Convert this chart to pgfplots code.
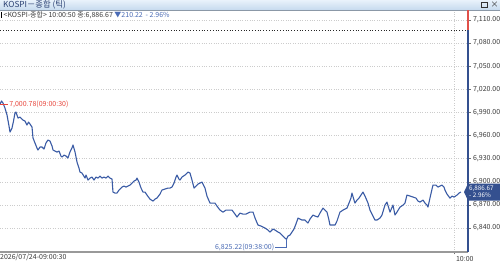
\documentclass[border=0pt]{standalone}
\usepackage{pgfplots}
\pgfplotsset{compat=1.18}
\usepackage{pgfplotstable}
\usepackage{fontspec}
\setmainfont{Noto Sans CJK KR}
\definecolor{linecol}{HTML}{3A5BA5}
\definecolor{axblue}{HTML}{34508F}
\definecolor{axred}{HTML}{E0504A}
\definecolor{annred}{HTML}{E8463C}
\definecolor{annblue}{HTML}{4A6BB5}
\definecolor{bartop}{HTML}{E9F2FB}
\definecolor{barbot}{HTML}{C6DAEE}
\definecolor{txtgray}{HTML}{3A3A3A}
\pgfplotstableread{
t v
0.50 7000.78
0.70 7004.8
0.89 7002.2
1.15 6995.7
1.42 6986.6
1.68 6972.3
1.81 6964.5
2.07 6969.7
2.27 6978.8
2.46 6989.2
2.59 6990.5
2.86 6982.7
3.12 6984.0
3.51 6980.1
3.77 6978.8
4.03 6973.6
4.23 6977.5
4.43 6974.9
4.69 6971.0
4.82 6956.8
5.08 6950.3
5.34 6943.8
5.47 6941.2
5.74 6945.1
6.00 6945.1
6.26 6942.5
6.52 6950.3
6.78 6954.2
7.04 6952.9
7.31 6946.4
7.44 6941.2
7.70 6939.9
7.96 6938.6
8.22 6939.9
8.48 6933.4
8.62 6932.1
8.88 6934.7
9.14 6933.4
9.40 6930.8
9.66 6938.6
9.92 6943.8
10.06 6947.7
10.32 6938.6
10.58 6925.6
10.84 6917.8
10.97 6912.6
11.23 6911.3
11.63 6904.8
11.76 6908.7
12.02 6902.2
12.28 6904.8
12.54 6906.1
12.80 6902.2
13.07 6906.1
13.33 6904.8
13.59 6907.4
13.85 6904.8
14.11 6906.1
14.37 6904.8
14.64 6907.4
14.90 6904.8
15.16 6903.5
15.29 6886.6
15.55 6885.3
15.81 6885.3
16.08 6889.2
16.34 6891.8
16.47 6893.1
16.73 6894.4
16.99 6893.1
17.25 6894.4
17.52 6895.7
17.78 6898.3
18.04 6900.9
18.30 6902.2
18.43 6904.8
18.69 6899.6
18.96 6891.8
19.22 6886.6
19.48 6886.6
19.74 6882.7
20.13 6877.5
20.53 6874.9
20.79 6877.5
21.05 6878.8
21.44 6884.0
21.70 6889.2
22.10 6890.5
22.49 6891.8
22.75 6891.8
23.01 6893.1
23.28 6898.3
23.54 6906.1
23.67 6908.7
23.93 6903.5
24.06 6902.2
24.32 6906.1
24.72 6908.7
25.11 6912.6
25.37 6911.3
25.63 6902.2
25.90 6891.8
26.16 6894.4
26.42 6897.0
26.68 6898.3
26.94 6899.6
27.20 6894.4
27.33 6891.8
27.59 6881.4
27.99 6872.3
28.25 6872.3
28.64 6872.3
28.90 6868.4
29.30 6863.2
29.69 6860.6
30.08 6863.2
30.47 6863.2
30.87 6863.2
31.26 6858.0
31.52 6854.2
31.91 6859.3
32.31 6858.0
32.70 6858.0
33.22 6860.6
33.62 6860.6
33.88 6852.9
34.27 6843.8
34.66 6842.5
35.19 6839.9
35.58 6837.3
35.84 6834.7
36.23 6838.6
36.49 6837.3
36.89 6834.7
37.15 6833.4
37.54 6829.5
37.80 6826.9
38.00 6825.22
38.20 6829.5
38.46 6830.8
38.72 6834.7
38.98 6838.6
39.24 6845.1
39.51 6852.9
39.77 6851.6
40.03 6850.3
40.42 6850.3
40.68 6847.7
40.81 6846.4
41.08 6851.6
41.47 6856.8
41.73 6855.5
42.12 6854.2
42.38 6859.3
42.78 6865.8
43.04 6863.2
43.30 6860.6
43.56 6850.3
43.69 6843.8
44.09 6843.8
44.35 6843.8
44.61 6849.0
45.00 6860.6
45.40 6863.2
45.66 6864.5
45.92 6865.8
46.18 6872.3
46.44 6878.8
46.57 6885.3
46.84 6876.2
46.97 6872.3
47.23 6876.2
47.49 6878.8
47.75 6882.7
48.01 6886.6
48.28 6881.4
48.67 6872.3
48.93 6863.2
49.32 6855.5
49.58 6850.3
49.85 6850.3
50.24 6852.9
50.50 6856.8
50.89 6869.7
51.15 6873.6
51.55 6860.6
51.94 6869.7
52.20 6856.8
52.46 6860.6
52.86 6867.1
53.25 6869.7
53.51 6872.3
53.77 6882.7
54.17 6881.4
54.56 6880.1
54.95 6878.8
55.21 6874.9
55.47 6873.6
55.87 6876.2
56.13 6872.3
56.39 6869.7
56.52 6867.1
56.78 6878.8
57.05 6890.5
57.18 6895.7
57.57 6895.7
57.83 6893.1
58.09 6894.4
58.36 6895.7
58.62 6893.1
58.75 6889.2
59.01 6884.0
59.40 6878.8
59.66 6881.4
59.93 6880.1
60.32 6882.7
60.58 6885.3
60.83 6886.67
}\kospi
\begin{document}
\begin{tikzpicture}[font=\fontsize{7}{8}\selectfont]
\fill[white] (0pt,0pt) rectangle (500pt,261pt);
% title bar
\shade[top color=bartop, bottom color=barbot] (0pt,251pt) rectangle (500pt,261pt);
\draw[barbot!70!black, line width=0.5pt] (0pt,251pt) -- (500pt,251pt);
\node[anchor=west, inner sep=0pt, text=axblue!80!black] at (3pt,256pt) {\fontsize{8.3}{9}\selectfont KOSPI－종합 (틱)};
\draw[black!80, line width=0.6pt] (481pt,253.5pt) rectangle (487pt,258.5pt);
\node[inner sep=0pt, text=black!80] at (494.5pt,256pt) {\fontsize{8}{8}\selectfont ×};
\begin{axis}[
  at={(0pt,9pt)}, anchor=south west,
  scale only axis, width=468pt, height=242pt,
  xmin=0.5, xmax=61.76, ymin=6808.8, ymax=7123,
  axis line style={draw=none},
  ytick={6840,6870,6900,6930,6960,6990,7020,7050,7080,7110},
  ytick pos=right, yticklabel pos=right,
  xtick={60}, xticklabels={10:00}, xtick pos=lower,
  tick align=outside, major tick length=2.5pt,
  tick style={black!55, line width=0.4pt},
  ymajorgrids, xmajorgrids,
  grid style={dotted, black!20, line width=0.5pt},
  /pgf/number format/assume math mode=true,
  y tick label style={/pgf/number format/fixed, /pgf/number format/fixed zerofill, /pgf/number format/precision=2, /pgf/number format/1000 sep={,}, text=txtgray, font=\fontsize{7}{8}\selectfont, xshift=-1pt},
  x tick label style={text=txtgray, anchor=north west, xshift=-2pt, yshift=2pt, font=\fontsize{7}{8}\selectfont},
  clip=false,
]
% previous close dotted line
\draw[black!85, dotted, line width=0.8pt] (axis cs:0.5,7096.89) -- (axis cs:61.76,7096.89);
% bottom axis
\draw[black!40, line width=1.6pt] (rel axis cs:0,0) -- (rel axis cs:1,0);
% right axis two-coloured
\draw[axblue, line width=1.8pt] (rel axis cs:1,0) -- (axis cs:61.76,7096.89);
\draw[axred, line width=1.8pt] (axis cs:61.76,7096.89) -- (rel axis cs:1,1);
\addplot[linecol, line width=1.1pt, line join=round] table[x=t, y=v] {\kospi};
% max annotation
\draw[annred, line width=0.5pt] (axis cs:0.5,7000.78) -- ++(8pt,0pt) node[right, inner sep=1pt, text=annred] {7,000.78(09:00:30)};
% min annotation
\draw[annblue, line width=0.5pt] (axis cs:38,6825.22) -- ++(0pt,-7.5pt) -- ++(-11pt,0pt) node[left, inner sep=1pt, text=annblue] {6,825.22(09:38:00)};
% last value badge
\fill[axblue] (axis cs:61.76,6886.67) ++(-4pt,0pt) -- ++(4pt,8.5pt) -- ++(33pt,0pt) -- ++(0pt,-17pt) -- ++(-33pt,0pt) -- cycle;
\node[text=white, align=left, inner sep=0pt, anchor=west, xshift=1pt, font=\fontsize{6.3}{6.8}\selectfont] at (axis cs:61.76,6886.67) {6,886.67\\ -~2.96\%};
% bottom-left date label
\node[anchor=north west, inner sep=0pt, yshift=-2pt, text=txtgray] at (rel axis cs:0,0) {2026/07/24-09:00:30};
\end{axis}
% header line
\fill[black] (1pt,242.5pt) rectangle (2.4pt,248.5pt);
\node[anchor=west, inner sep=0pt] at (3.5pt,245.5pt) {\textcolor{txtgray}{<KOSPI-종합> 10:00:50 종:6,886.67} \textcolor{annblue}{▼210.22 \,-~2.96\%}};
\pgfresetboundingbox
\path[use as bounding box] (0pt,0pt) rectangle (500pt,261pt);
\end{tikzpicture}
\end{document}
